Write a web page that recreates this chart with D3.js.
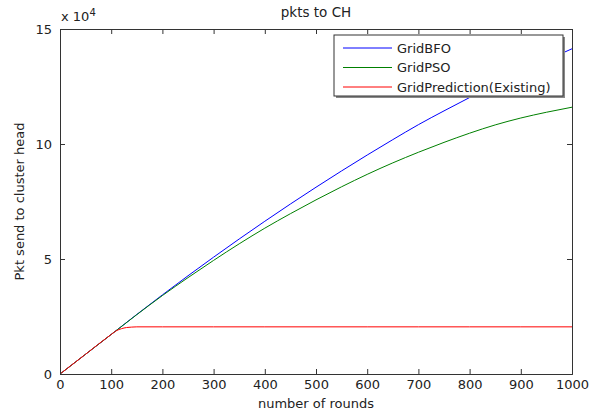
<!DOCTYPE html>
<html><head><meta charset="utf-8">
<script src="https://cdn.jsdelivr.net/npm/d3@7"></script>
<style>body{margin:0;background:#fff;} text{font-family:"DejaVu Sans",sans-serif;}</style>
</head><body><svg id="c" width="600" height="413"></svg>
<script>
const roundsMain = [0,50,100,150,200,250,300,350,400,450,500,550,600,650,700,750,800,850,900,950,1000];
const gridBFO = [0,0.86,1.72,2.59,3.44,4.27,5.08,5.87,6.64,7.39,8.12,8.83,9.52,10.19,10.84,11.44,12.02,12.58,13.12,13.64,14.14];
const gridPSO = [0,0.86,1.72,2.58,3.41,4.19,4.94,5.66,6.34,6.97,7.57,8.14,8.68,9.18,9.64,10.07,10.47,10.83,11.13,11.38,11.6];
const roundsRed = [0,50,100,110,120,130,140,150,200,300,400,500,600,700,800,900,1000];
const gridPred = [0,0.86,1.72,1.88,1.97,2.02,2.04,2.05,2.05,2.05,2.05,2.05,2.05,2.05,2.05,2.05,2.05];
const xTicks = [0,100,200,300,400,500,600,700,800,900,1000];
const yTicks = [0,5,10,15];
const seriesNames = ["GridBFO","GridPSO","GridPrediction(Existing)"];
const colors = ["#0000ff","#008000","#ff0000"];

const svg = d3.select("#c");
const L=60,R=572,T=29,B=374;
const x = d3.scaleLinear().domain([0,1000]).range([L,R]);
const y = d3.scaleLinear().domain([0,15]).range([B,T]);
const axisCol="#333";
const txtCol="#222";
const labFont="DejaVu Sans, sans-serif";
const tickFont="Liberation Sans, Arial, sans-serif";

svg.append("rect").attr("x",L).attr("y",T).attr("width",R-L).attr("height",B-T).attr("fill","#fff");

const series = [
  {name:seriesNames[0], xs:roundsMain, ys:gridBFO, c:colors[0]},
  {name:seriesNames[1], xs:roundsMain, ys:gridPSO, c:colors[1]},
  {name:seriesNames[2], xs:roundsRed, ys:gridPred, c:colors[2]}
];
const line = d3.line().x(d=>x(d[0])).y(d=>y(d[1])).curve(d3.curveMonotoneX);
series.forEach(s=>{
  svg.append("path").datum(s.xs.map((v,i)=>[v,s.ys[i]]))
    .attr("d",line).attr("fill","none").attr("stroke",s.c).attr("stroke-width",1);
});

// axes
const xb = svg.append("g").attr("transform",`translate(0,${B})`)
  .call(d3.axisBottom(x).tickValues(xTicks).tickSize(-5).tickPadding(6).tickFormat(d3.format("d")));
const xt = svg.append("g").attr("transform",`translate(0,${T})`)
  .call(d3.axisTop(x).tickValues(xTicks).tickSize(-5).tickFormat(""));
const yl = svg.append("g").attr("transform",`translate(${L},0)`)
  .call(d3.axisLeft(y).tickValues(yTicks).tickSize(-5).tickPadding(8).tickFormat(d3.format("d")));
const yr = svg.append("g").attr("transform",`translate(${R},0)`)
  .call(d3.axisRight(y).tickValues(yTicks).tickSize(-5).tickFormat(""));
[xb,xt,yl,yr].forEach(g=>{
  g.selectAll(".domain").attr("stroke",axisCol);
  g.selectAll(".tick line").attr("stroke",axisCol);
  g.selectAll("text").attr("font-size",13).attr("fill",txtCol).attr("font-family",tickFont);
});
xb.selectAll(".tick text").attr("dy","0.71em");

// title & labels
svg.append("text").attr("x",(L+R)/2).attr("y",17).attr("text-anchor","middle").attr("font-size",13.5).attr("font-family",labFont).attr("fill",txtCol).text("pkts to CH");
svg.append("text").attr("x",(L+R)/2).attr("y",408).attr("text-anchor","middle").attr("font-size",13).attr("font-family",labFont).attr("fill",txtCol).text("number of rounds");
svg.append("text").attr("transform",`translate(24,${(T+B)/2}) rotate(-90)`).attr("text-anchor","middle").attr("font-size",13).attr("font-family",labFont).attr("fill",txtCol).text("Pkt send to cluster head");
const mult = svg.append("text").attr("x",61).attr("y",21).attr("font-size",13).attr("font-family",tickFont).attr("fill",txtCol);
mult.append("tspan").text("x 10");
mult.append("tspan").attr("dy",-5).attr("font-size",10).text("4");

// legend
const lg = svg.append("g");
lg.append("rect").attr("x",336).attr("y",37).attr("width",229).attr("height",61).attr("fill","#888");
lg.append("rect").attr("x",334).attr("y",35).attr("width",229).attr("height",61).attr("fill","#fff").attr("stroke","#333");
series.forEach((s,i)=>{
  const yy=48+i*19.5;
  lg.append("line").attr("x1",343).attr("x2",392).attr("y1",yy).attr("y2",yy).attr("stroke",s.c);
  lg.append("text").attr("x",397).attr("y",yy).attr("dy","0.36em").attr("font-size",13).attr("font-family",labFont).attr("fill",txtCol).text(s.name);
});
</script></body></html>
